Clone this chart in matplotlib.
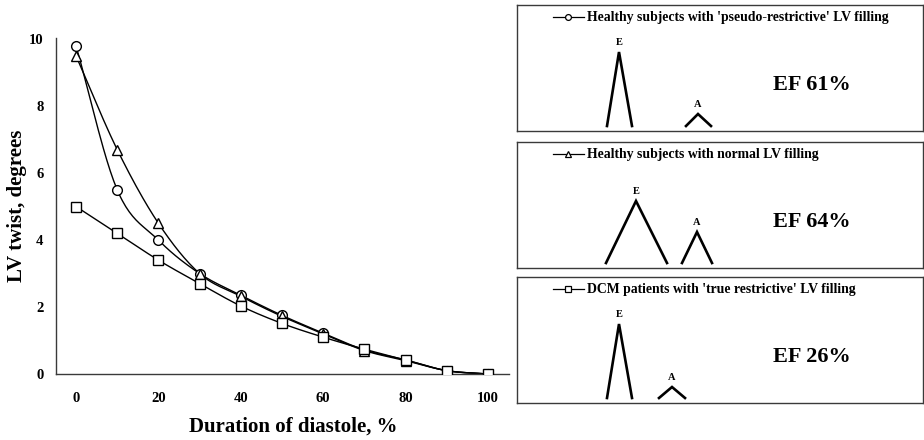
import numpy as np
import matplotlib

matplotlib.use("Agg")
import matplotlib.pyplot as plt

plt.rcParams["font.family"] = ["Liberation Serif", "DejaVu Serif"]
plt.rcParams["font.weight"] = "bold"

# LV untwisting through diastole, three groups
diastole_pct = [0, 10, 20, 30, 40, 50, 60, 70, 80, 90, 100]
twist_pseudo = [9.8, 5.5, 4.0, 3.0, 2.35, 1.75, 1.22, 0.72, 0.42, 0.1, 0.0]
twist_normal = [9.5, 6.7, 4.5, 3.0, 2.32, 1.72, 1.2, 0.7, 0.4, 0.1, 0.0]
twist_dcm = [5.0, 4.2, 3.4, 2.7, 2.03, 1.51, 1.1, 0.74, 0.42, 0.1, 0.0]

group_labels = [
    "Healthy subjects with 'pseudo-restrictive' LV filling",
    "Healthy subjects with normal LV filling",
    "DCM patients with 'true restrictive' LV filling",
]
group_markers = ["o", "^", "s"]
ejection_fraction = [61, 64, 26]

# schematic mitral inflow per group: (onset, peak, end) and peak height
e_wave_time = [(90, 102, 115), (89, 119, 150), (90, 102, 115)]
e_wave_height = [74, 62, 74]
a_wave_time = [(169, 181, 194), (165, 180, 195), (142, 155, 168)]
a_wave_height = [12, 31, 11]


def smooth(x, y, n=24):
    """Catmull-Rom curve through the points, like a spreadsheet smoothed line."""
    x = np.asarray(x, float)
    y = np.asarray(y, float)
    px = np.concatenate([[2 * x[0] - x[1]], x, [2 * x[-1] - x[-2]]])
    py = np.concatenate([[2 * y[0] - y[1]], y, [2 * y[-1] - y[-2]]])
    xs, ys = [], []
    t = np.linspace(0, 1, n, endpoint=False)
    for i in range(1, len(px) - 2):
        for arr, out in ((px, xs), (py, ys)):
            p0, p1, p2, p3 = arr[i - 1:i + 3]
            out.extend(0.5 * ((2 * p1) + (-p0 + p2) * t
                              + (2 * p0 - 5 * p1 + 4 * p2 - p3) * t ** 2
                              + (-p0 + 3 * p1 - 3 * p2 + p3) * t ** 3))
    xs.append(x[-1])
    ys.append(y[-1])
    return np.array(xs), np.array(ys)


W, H = 924, 440
fig = plt.figure(figsize=(W / 100, H / 100), dpi=100)


def px_axes(left, top, right, bottom):
    return fig.add_axes([left / W, 1 - bottom / H, (right - left) / W, (bottom - top) / H])


ax = px_axes(56, 38, 509, 374)
series = [twist_pseudo, twist_normal, twist_dcm]
msizes = [7, 7.5, 7]
for vals, mk, ms in zip(series, group_markers, msizes):
    sx, sy = smooth(diastole_pct, vals)
    ax.plot(sx, sy, color="black", lw=1.0, zorder=2)
    ax.plot(diastole_pct, vals, ls="none", marker=mk, ms=ms, mfc="white",
            mec="black", mew=1.0, zorder=3)

ax.set_xlim(-4.85, 105.1)
ax.set_ylim(0, 10.03)
ax.set_xticks(range(0, 101, 20))
ax.set_yticks(range(0, 11, 2))
ax.spines["top"].set_visible(False)
ax.spines["right"].set_visible(False)
for s in ("left", "bottom"):
    ax.spines[s].set_color("#3a3a3a")
    ax.spines[s].set_linewidth(1.0)
ax.tick_params(axis="both", length=0, labelsize=10.5)
ax.tick_params(axis="y", pad=9)
ax.tick_params(axis="x", pad=13)
ax.set_xlabel("Duration of diastole, %", fontsize=15, fontweight="bold")
ax.xaxis.set_label_coords((293 - 56) / (509 - 56), -(427 - 374) / (374 - 38), transform=ax.transAxes)
ax.xaxis.label.set_va("center")
ax.set_ylabel("LV twist, degrees", fontsize=15, fontweight="bold")
ax.yaxis.set_label_coords(-(56 - 17) / (509 - 56), 0.5, transform=ax.transAxes)
ax.yaxis.label.set_va("center")

# one framed panel per group: legend entry, E/A inflow sketch and EF
box_tops = [5, 142, 277]
box_h = 126
box_w = 406
for i, top in enumerate(box_tops):
    bx = px_axes(517, top, 517 + box_w, top + box_h)
    bx.set_xlim(0, box_w)
    bx.set_ylim(0, box_h)
    bx.set_xticks([])
    bx.set_yticks([])
    for s in bx.spines.values():
        s.set_color("#3a3a3a")
        s.set_linewidth(1.0)

    ly = box_h - 12
    bx.plot([36, 67], [ly, ly], color="black", lw=0.9)
    bx.plot([51], [ly], ls="none", marker=group_markers[i], ms=4.2,
            mfc="white", mec="black", mew=0.9)
    bx.text(70, ly, group_labels[i], fontsize=9.9, fontweight="bold",
            va="center", ha="left")

    base = 5
    for times, height, name in ((e_wave_time[i], e_wave_height[i], "E"),
                                (a_wave_time[i], a_wave_height[i], "A")):
        t0, tp, t1 = times
        bx.plot([t0, tp, t1], [base, base + height, base], color="black",
                lw=1.9, solid_joinstyle="miter")
        bx.text(tp, base + height + 5, name, fontsize=7.5, fontweight="bold",
                ha="center", va="bottom")

    bx.text(295, 46, f"EF {ejection_fraction[i]}%", fontsize=16,
            fontweight="bold", ha="center", va="center")

fig.savefig("out.png", dpi=100)
